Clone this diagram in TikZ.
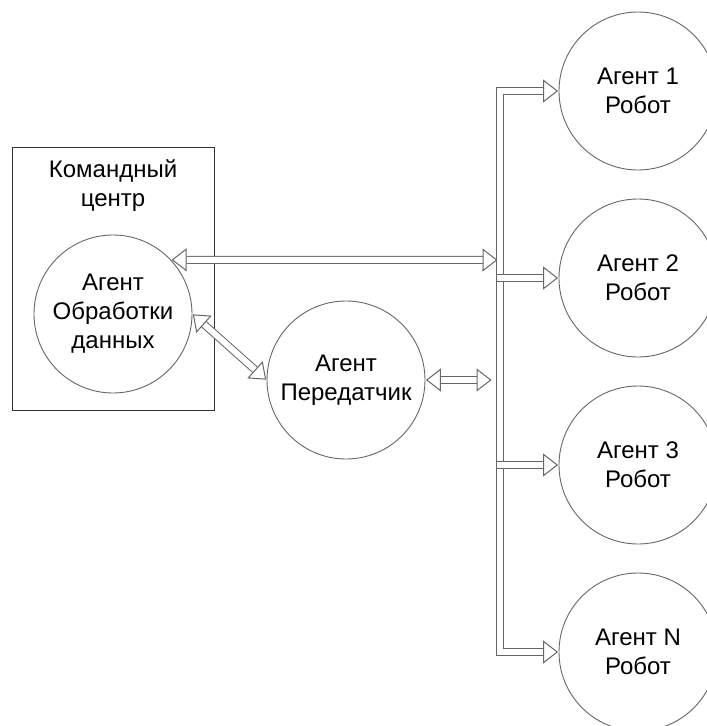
\documentclass[tikz,border=0pt]{standalone}
\usepackage{fontspec}
\setmainfont{Liberation Sans}
\usetikzlibrary{arrows.meta,calc}

\tikzset{
  agent/.style={draw=black!60, line width=0.9pt, circle, minimum size=158pt, inner sep=0pt,
    align=center, font=\fontsize{24}{29}\selectfont},
  flex/.style={draw=black!60, line width=1pt, double=white, double distance=6pt,
    line join=miter, shorten >=0.5pt, shorten <=0.5pt},
  tip/.style={-{Triangle[length=15pt,width=23pt,open,fill=white]}},
  twotip/.style={{Triangle[length=15pt,width=23pt,open,fill=white]}-{Triangle[length=15pt,width=23pt,open,fill=white]}}
}

\begin{document}
\begin{tikzpicture}[x=1pt,y=-1pt]
  \clip (0,0) rectangle (707,726);

  % command centre
  \draw[black!80, line width=0.9pt] (12,147) rectangle (214,410);
  \node[font=\fontsize{24}{29}\selectfont, align=center] (centre) at (113,186) {Командный\\центр};

  \node[agent] (data) at (113,314) {Агент\\Обработки\\данных};
  \node[agent] (trans) at (346,380) {Агент\\Передатчик};

  \node[agent] (r1) at (638,91) {Агент 1\\Робот};
  \node[agent] (r2) at (638,278) {Агент 2\\Робот};
  \node[agent] (r3) at (638,465) {Агент 3\\Робот};
  \node[agent] (rn) at (638,652) {Агент N\\Робот};

  \coordinate (bus) at (499.5,91);
  \coordinate (busend) at (499.5,652);
  \coordinate (busa) at (498,260);
  \coordinate (busb) at (492,380);

  \draw[flex,twotip] (r1.west) -- (bus) -- (busend) -- (rn.west);
  \draw[flex,tip] (496,278) -- (r2.west);
  \draw[flex,tip] (496,465) -- (r3.west);

  \draw[flex,twotip] (data.43) -- (busa);
  \draw[flex,twotip] (data.east) -- (trans.west);
  \draw[flex,twotip] (trans.east) -- (busb);
\end{tikzpicture}
\end{document}
